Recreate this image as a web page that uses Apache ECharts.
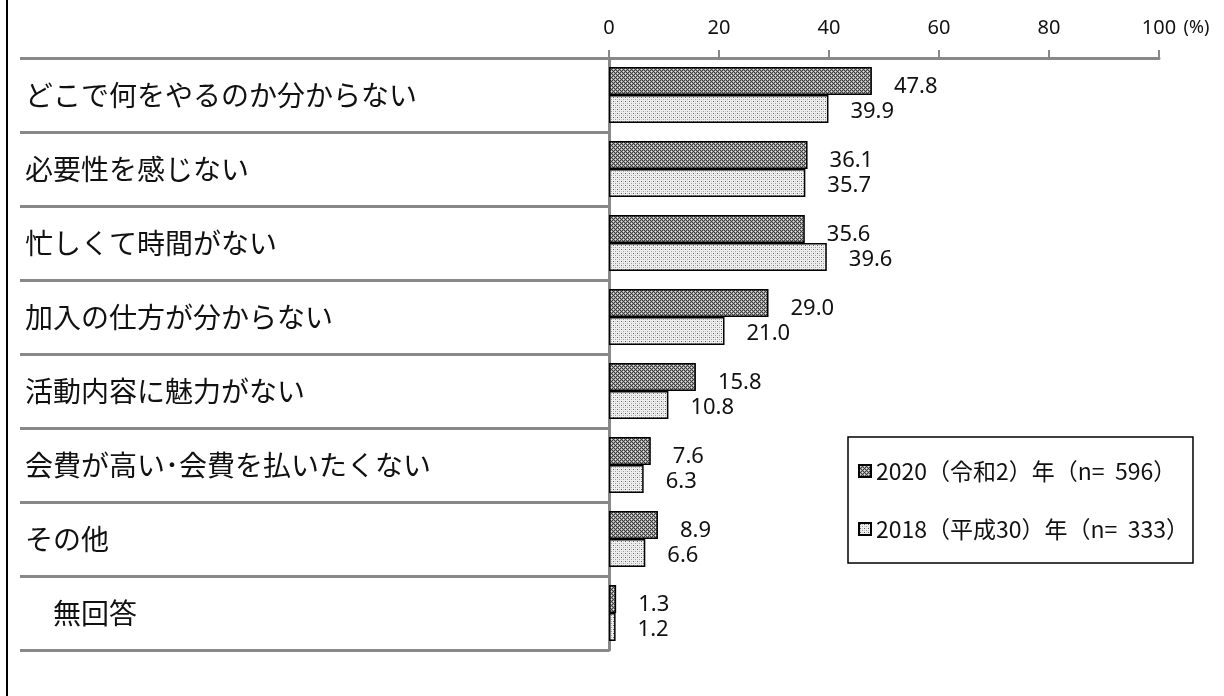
<!DOCTYPE html>
<html>
<head>
<meta charset="utf-8">
<script src="https://cdn.jsdelivr.net/npm/echarts@6/dist/echarts.min.js"></script>
<style>
html,body{margin:0;padding:0;background:#fff;}
#chart{width:1224px;height:696px;}
</style>
</head>
<body>
<div id="chart"></div>
<script>
const categories = ['どこで何をやるのか分からない','必要性を感じない','忙しくて時間がない','加入の仕方が分からない','活動内容に魅力がない','会費が高い･会費を払いたくない','その他','無回答'];
const values2020 = [47.8, 36.1, 35.6, 29.0, 15.8, 7.6, 8.9, 1.3];
const values2018 = [39.9, 35.7, 39.6, 21.0, 10.8, 6.3, 6.6, 1.2];
const seriesNames = ['2020（令和2）年（n=  596）', '2018（平成30）年（n=  333）'];
const axisTicks = [0, 20, 40, 60, 80, 100];

function makePattern(draw, size) {
  const c = document.createElement('canvas');
  c.width = size; c.height = size;
  const ctx = c.getContext('2d');
  draw(ctx);
  return c;
}
const darkPat = makePattern(function (ctx) {
  for (let y = 0; y < 4; y++) for (let x = 0; x < 4; x++) {
    ctx.fillStyle = ((x + y) % 2 === 0) ? '#3c3c3c' : '#a0a0a0';
    ctx.fillRect(x, y, 1, 1);
  }
  ctx.fillStyle = '#e6e6e6'; ctx.fillRect(1, 1, 1, 1); ctx.fillRect(3, 3, 1, 1);
}, 4);
const lightPat = makePattern(function (ctx) {
  ctx.fillStyle = '#f0f0f0'; ctx.fillRect(0, 0, 4, 4);
  ctx.fillStyle = '#5e5e5e'; ctx.fillRect(1, 1, 1, 1);
  ctx.fillStyle = '#9a9a9a'; ctx.fillRect(3, 3, 1, 1);
  ctx.fillStyle = '#c4c4c4'; ctx.fillRect(1, 3, 1, 1); ctx.fillRect(3, 1, 1, 1);
}, 4);

const chart = echarts.init(document.getElementById('chart'), null, {renderer: 'canvas'});
const jp = 'Noto Sans CJK JP';
const numFont = 'Noto Sans';

function valueLabel(offsetY) {
  return {
    show: true, position: 'right', distance: 22, offset: [0, offsetY],
    fontFamily: numFont, fontSize: 22, color: '#111',
    formatter: function (p) { return p.value.toFixed(1); }
  };
}

chart.setOption({
  animation: false,
  backgroundColor: '#fff',
  graphic: [{
    type: 'line', shape: {x1: 7, y1: 0, x2: 7, y2: 696},
    style: {stroke: '#000', lineWidth: 2}
  }],
  grid: {left: 609, right: 65, top: 58, bottom: 46, containLabel: false},
  legend: {
    orient: 'vertical', left: 848, top: 437,
    padding: [21, 4, 21, 10], itemGap: 32,
    itemWidth: 12, itemHeight: 12, icon: 'rect',
    borderColor: '#000', borderWidth: 1.5,
    textStyle: {fontFamily: jp, fontSize: 23, color: '#111', lineHeight: 26},
    data: seriesNames
  },
  xAxis: {
    type: 'value', position: 'top', min: 0, max: 100, interval: 20,
    axisLine: {show: true, lineStyle: {color: '#888', width: 3}},
    axisTick: {show: true, length: 8, lineStyle: {color: '#888', width: 2}},
    splitLine: {show: false},
    axisLabel: {
      margin: 20, color: '#111', fontFamily: numFont, fontSize: 20,
      formatter: function (v) {
        return v === axisTicks[axisTicks.length - 1] ? '{pad|}{v|' + v + '}{p| (%)}' : String(v);
      },
      rich: {
        pad: {width: 36},
        v: {fontFamily: numFont, fontSize: 20, color: '#111'},
        p: {fontFamily: numFont, fontSize: 18, color: '#111', width: 36}
      }
    }
  },
  yAxis: {
    type: 'category', data: categories, inverse: true,
    axisLine: {show: true, lineStyle: {color: '#888', width: 3}},
    axisTick: {show: true, length: 589, interval: 0, lineStyle: {color: '#888', width: 3}},
    axisLabel: {
      align: 'left', margin: 584, interval: 0,
      fontFamily: jp, fontSize: 28, color: '#111',
      formatter: function (v) { return v === '無回答' ? '\u3000' + v : v; }
    }
  },
  series: [{
    name: seriesNames[0], type: 'bar', data: values2020,
    barWidth: 28, barGap: '0%',
    itemStyle: {color: {image: darkPat, repeat: 'repeat'}, borderColor: '#000', borderWidth: 1.5},
    label: valueLabel(6)
  }, {
    name: seriesNames[1], type: 'bar', data: values2018,
    barWidth: 28, barGap: '0%',
    itemStyle: {color: {image: lightPat, repeat: 'repeat'}, borderColor: '#000', borderWidth: 1.5},
    label: valueLabel(3)
  }]
});
</script>
</body>
</html>
